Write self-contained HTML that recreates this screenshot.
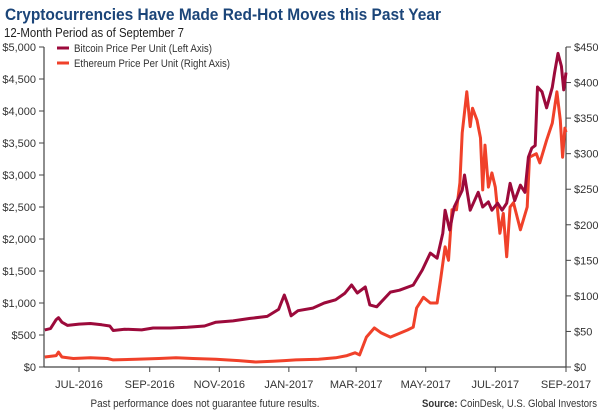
<!DOCTYPE html>
<html><head><meta charset="utf-8"><style>
html,body{margin:0;padding:0;background:#fff;width:600px;height:413px;overflow:hidden}
svg{display:block;font-family:"Liberation Sans",sans-serif}
</style></head><body>
<svg id="chart" width="600" height="413" viewBox="0 0 600 413">
<text x="5" y="20" font-size="17" font-weight="bold" fill="#1b4579" textLength="436" lengthAdjust="spacingAndGlyphs">Cryptocurrencies Have Made Red-Hot Moves this Past Year</text>
<text x="4" y="37" font-size="12.5" fill="#222" textLength="180" lengthAdjust="spacingAndGlyphs">12-Month Period as of September 7</text>
<g id="axes"></g>
<g id="lines"></g>
<g>
<line x1="57" y1="48" x2="69" y2="48" stroke="#9c0a3b" stroke-width="3"/>
<text x="74" y="52" font-size="11" fill="#333" textLength="138" lengthAdjust="spacingAndGlyphs">Bitcoin Price Per Unit (Left Axis)</text>
<line x1="57" y1="63" x2="69" y2="63" stroke="#f0412a" stroke-width="3"/>
<text x="74" y="67" font-size="11" fill="#333" textLength="156" lengthAdjust="spacingAndGlyphs">Ethereum Price Per Unit (Right Axis)</text>
</g>
<text x="205" y="407" font-size="11" fill="#333" text-anchor="middle" textLength="229" lengthAdjust="spacingAndGlyphs">Past performance does not guarantee future results.</text>
<text x="597" y="407" font-size="11" fill="#333" text-anchor="end" textLength="175" lengthAdjust="spacingAndGlyphs"><tspan font-weight="bold">Source:</tspan> CoinDesk, U.S. Global Investors</text>
</svg>
<script>
const btcDays=[0,5,10,12,15,20,30,40,50,57,60,70,85,95,110,125,140,150,165,180,195,205,210,213,216,222,235,245,255,263,269,274,281,285,291,303,311,323,331,338,344,349,351,355,359,366,368,373,380,384,389,392,397,401,405,408,412,417,421,424,427,430,432,436,440,445,447,450,453,455,457];
const btcValues=[580,600,740,770,700,650,670,680,660,640,570,590,580,610,610,620,640,700,720,760,790,900,1125,980,800,880,920,1000,1050,1150,1281,1156,1250,970,940,1170,1200,1280,1515,1780,1700,2090,2450,2140,2500,2760,3000,2450,2730,2500,2580,2450,2560,2450,2560,2870,2600,2840,2730,3280,3420,3460,4375,4300,4050,4370,4600,4900,4700,4330,4600];
const ethDays=[0,10,12,15,25,40,55,60,80,100,115,130,150,170,185,200,210,220,240,255,265,272,276,282,289,295,303,318,323,326,332,338,344,347,351,354,357,361,364,366,370,373,375,379,382,384,386,389,392,395,399,402,405,408,411,417,423,425,431,434,440,445,449,452,454,456,457];
const ethValues=[14,16,21,14,12,13,12,10,11,12,13,12,11,9,7,8,9,10,11,13,16,20,17,42,55,48,42,52,56,83,98,90,90,122,169,150,221,221,259,329,387,338,364,347,322,249,312,253,273,253,188,216,155,225,231,193,225,295,300,287,319,343,387,347,295,336,330];
const leftTicks=[0,500,1000,1500,2000,2500,3000,3500,4000,4500,5000];
const rightTicks=[0,50,100,150,200,250,300,350,400,450];
const xTickDays=[30,92,153,214,273,334,395,457];
const xTickLabels=["JUL-2016","SEP-2016","NOV-2016","JAN-2017","MAR-2017","MAY-2017","JUL-2017","SEP-2017"];

const X0=44.8,X1=566,D0=0,D1=457,Y0=367,Y1=47;
const x=d=>X0+(d-D0)/(D1-D0)*(X1-X0);
const yL=v=>Y0-v/5000*(Y0-Y1);
const yR=v=>Y0-v/450*(Y0-Y1);
const NS="http://www.w3.org/2000/svg";
const axes=document.getElementById('axes'),lines=document.getElementById('lines');
function mk(tag,attrs,parent){const e=document.createElementNS(NS,tag);for(const k in attrs)e.setAttribute(k,attrs[k]);parent.appendChild(e);return e;}
function fmt(v){return '$'+v.toLocaleString('en-US');}

let e=mk('line',{x1:44,y1:Y1,x2:44,y2:Y0,stroke:'#444','stroke-width':1.2},axes);


e=mk('line',{x1:566,y1:Y1,x2:566,y2:Y0,stroke:'#444','stroke-width':1.2},axes);


e=mk('line',{x1:44,y1:Y0,x2:566,y2:Y0,stroke:'#444','stroke-width':1.2},axes);



leftTicks.forEach(v=>{
 const t=mk('line',{x1:39,y1:yL(v),x2:44,y2:yL(v),stroke:'#444'},axes);
 
 
 const l=mk('text',{x:36,y:yL(v)+4,'font-size':11,fill:'#333','text-anchor':'end'},axes);
 l.textContent=fmt(v);
 
 
});
rightTicks.forEach(v=>{
 const t=mk('line',{x1:566,y1:yR(v),x2:571,y2:yR(v),stroke:'#444'},axes);
 
 
 const l=mk('text',{x:574,y:yR(v)+4,'font-size':11,fill:'#333'},axes);
 l.textContent=fmt(v);
 
 
});
xTickDays.forEach((d,i)=>{
 const t=mk('line',{x1:x(d),y1:Y0,x2:x(d),y2:Y0+5,stroke:'#444'},axes);
 
 
 const l=mk('text',{x:x(d),y:Y0+21,'font-size':11,fill:'#333','text-anchor':'middle'},axes);
 l.textContent=xTickLabels[i];
 
 
});

const ethPath=mk('path',{d:ethDays.map((d,i)=>(i?'L':'M')+x(d).toFixed(1)+','+yR(ethValues[i]).toFixed(1)).join(''),fill:'none',stroke:'#f0412a','stroke-width':3,'stroke-linejoin':'round'},lines);


const btcPath=mk('path',{d:btcDays.map((d,i)=>(i?'L':'M')+x(d).toFixed(1)+','+yL(btcValues[i]).toFixed(1)).join(''),fill:'none',stroke:'#9c0a3b','stroke-width':3,'stroke-linejoin':'round'},lines);


</script>
</body></html>
